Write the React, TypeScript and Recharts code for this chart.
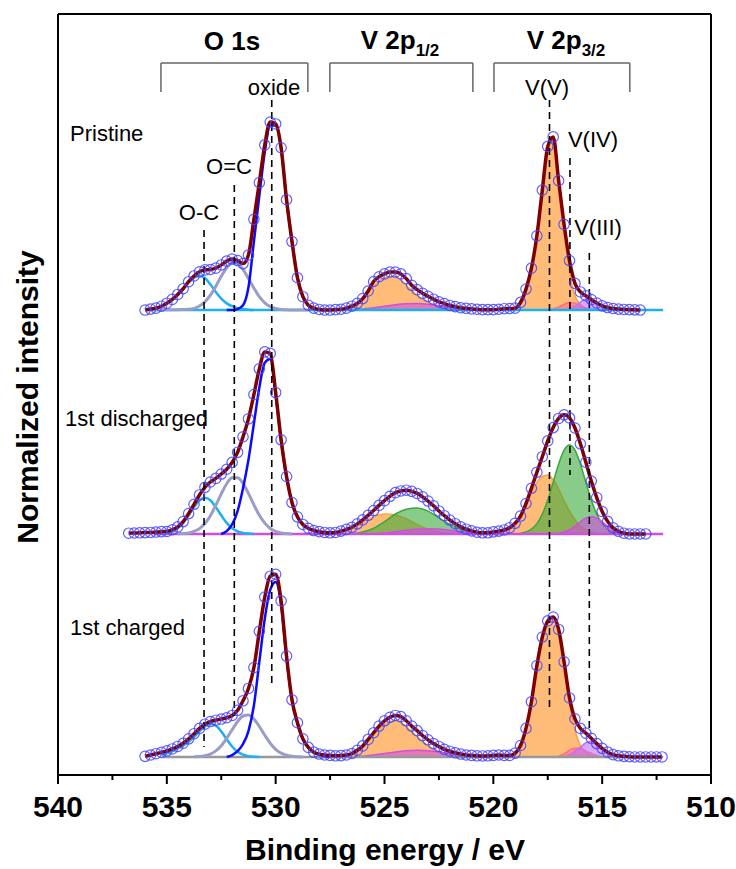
import React from 'react';
import { ComposedChart, Line, Area, Scatter, XAxis, YAxis, ReferenceLine } from 'recharts';

const FONT = '"Liberation Sans", Arial, Helvetica, sans-serif';

// x axis (binding energy, eV)
const majorTicks = [540, 535, 530, 525, 520, 515, 510];
const allTicks = [540, 537.5, 535, 532.5, 530, 527.5, 525, 522.5, 520, 517.5, 515, 512.5, 510];

// measured spectra, normalized intensity, 0.25 eV steps going down from *From
const pristineFrom = 536.0;
const pristine = [
  0, 0.005, 0.01, 0.02, 0.036, 0.056, 0.082, 0.112,
  0.149, 0.179, 0.201, 0.211, 0.213, 0.22, 0.237, 0.257,
  0.268, 0.26, 0.244, 0.289, 0.477, 0.67, 0.868, 0.988,
  0.978, 0.853, 0.58, 0.36, 0.17, 0.07, 0.025, 0.01,
  0.003, 0, 0, 0.002, 0.004, 0.01, 0.02, 0.035,
  0.06, 0.1, 0.15, 0.175, 0.19, 0.2, 0.2, 0.19,
  0.165, 0.13, 0.107, 0.088, 0.072, 0.057, 0.043, 0.034,
  0.024, 0.018, 0.012, 0.009, 0.006, 0.004, 0.002, 0.002,
  0.002, 0.004, 0.007, 0.008, 0.01, 0.04, 0.11, 0.22,
  0.39, 0.63, 0.86, 0.91, 0.68, 0.45, 0.26, 0.14,
  0.095, 0.075, 0.055, 0.037, 0.022, 0.013, 0.008, 0.005,
  0.003, 0.002, 0.001, 0,
];

const dischargedFrom = 536.75;
const discharged = [
  0.004, 0.005, 0.006, 0.007, 0.008, 0.01, 0.012, 0.013,
  0.022, 0.037, 0.065, 0.107, 0.156, 0.205, 0.245, 0.273,
  0.292, 0.315, 0.34, 0.376, 0.429, 0.511, 0.605, 0.733,
  0.868, 0.957, 0.949, 0.743, 0.495, 0.302, 0.165, 0.09,
  0.05, 0.03, 0.018, 0.012, 0.008, 0.006, 0.008, 0.015,
  0.024, 0.035, 0.053, 0.074, 0.098, 0.123, 0.15, 0.175,
  0.198, 0.217, 0.226, 0.23, 0.224, 0.213, 0.195, 0.173,
  0.148, 0.121, 0.096, 0.073, 0.054, 0.037, 0.025, 0.016,
  0.009, 0.006, 0.006, 0.011, 0.015, 0.021, 0.033, 0.056,
  0.094, 0.16, 0.24, 0.324, 0.406, 0.489, 0.559, 0.607,
  0.626, 0.61, 0.557, 0.474, 0.377, 0.278, 0.191, 0.118,
  0.066, 0.032, 0.014, 0.004, 0, 0, 0, 0,
];

const chargedFrom = 536.0;
const charged = [
  0.003, 0.01, 0.017, 0.024, 0.032, 0.042, 0.055, 0.072,
  0.095, 0.122, 0.15, 0.172, 0.186, 0.193, 0.199, 0.206,
  0.218, 0.245, 0.295, 0.36, 0.47, 0.66, 0.84, 0.95,
  0.96, 0.82, 0.53, 0.3, 0.18, 0.095, 0.05, 0.025,
  0.015, 0.01, 0.008, 0.006, 0.007, 0.01, 0.018, 0.035,
  0.058, 0.092, 0.127, 0.162, 0.19, 0.208, 0.218, 0.212,
  0.19, 0.162, 0.138, 0.112, 0.09, 0.07, 0.055, 0.04,
  0.03, 0.022, 0.015, 0.01, 0.008, 0.006, 0.005, 0.006,
  0.008, 0.01, 0.008, 0.008, 0.02, 0.06, 0.15, 0.29,
  0.48, 0.63, 0.715, 0.735, 0.67, 0.5, 0.31, 0.2,
  0.15, 0.125, 0.098, 0.07, 0.045, 0.025, 0.012, 0.006,
  0.003, 0.001, 0, 0, 0, 0, 0, 0,
];

// fitted components: first energy, step (eV), values
type Comp = { from: number; step: number; v: number[] };

// pristine
const priOC: Comp = { from: 535.75, step: 0.25, v: [0.005, 0.01, 0.02, 0.035, 0.055, 0.08, 0.11, 0.145, 0.17, 0.18, 0.168, 0.135, 0.095, 0.06, 0.035, 0.02, 0.01, 0.005, 0.002, 0] };
const priOdC: Comp = { from: 535.5, step: 0.25, v: [0, 0.001, 0.001, 0.002, 0.002, 0.003, 0.004, 0.009, 0.021, 0.043, 0.078, 0.125, 0.177, 0.222, 0.248, 0.245, 0.214, 0.166, 0.115, 0.07, 0.038, 0.018, 0.008, 0.003, 0.001, 0, 0, 0, 0] };
const priOxide: Comp = { from: 532.25, step: 0.25, v: [0, 0, 0.005, 0.025, 0.12, 0.36, 0.6, 0.83, 0.97, 0.97, 0.85, 0.58, 0.36, 0.17, 0.07, 0.025, 0.01, 0.003, 0] };
const priV5a: Comp = { from: 527.0, step: 0.5, v: [0, 0.012, 0.055, 0.125, 0.17, 0.175, 0.13, 0.075, 0.04, 0.018, 0.006, 0] };
const priPinkA: Comp = { from: 526.5, step: 0.5, v: [0, 0.005, 0.012, 0.02, 0.028, 0.033, 0.034, 0.031, 0.024, 0.016, 0.008, 0.003, 0] };
const priV5: Comp = { from: 519.75, step: 0.25, v: [0.002, 0.003, 0.005, 0.009, 0.035, 0.1, 0.21, 0.38, 0.62, 0.85, 0.9, 0.66, 0.42, 0.2, 0.075, 0.03, 0.01, 0.003, 0] };
const priV4: Comp = { from: 517.5, step: 0.25, v: [0, 0.005, 0.015, 0.03, 0.04, 0.035, 0.022, 0.01, 0.004, 0] };
const priV3: Comp = { from: 516.75, step: 0.25, v: [0, 0.006, 0.02, 0.042, 0.058, 0.05, 0.033, 0.02, 0.011, 0.006, 0.003, 0] };

// 1st discharged
const disOC: Comp = { from: 535.25, step: 0.25, v: [0.002, 0.005, 0.013, 0.03, 0.058, 0.098, 0.141, 0.177, 0.19, 0.177, 0.141, 0.098, 0.058, 0.03, 0.013, 0.005, 0.002, 0] };
const disOdC: Comp = { from: 534.5, step: 0.25, v: [0.001, 0.002, 0.005, 0.013, 0.028, 0.055, 0.096, 0.151, 0.211, 0.264, 0.296, 0.296, 0.266, 0.213, 0.153, 0.098, 0.057, 0.029, 0.013, 0.005, 0.002, 0] };
const disOxide: Comp = { from: 532.5, step: 0.25, v: [0, 0.015, 0.05, 0.12, 0.24, 0.39, 0.58, 0.77, 0.9, 0.92, 0.73, 0.49, 0.3, 0.165, 0.09, 0.05, 0.03, 0.018, 0.01, 0.005, 0] };
const disV5a: Comp = { from: 527.5, step: 0.5, v: [0, 0.01, 0.03, 0.06, 0.09, 0.105, 0.1, 0.08, 0.05, 0.025, 0.01, 0.003, 0] };
const disV4a: Comp = { from: 526.5, step: 0.5, v: [0, 0.01, 0.03, 0.065, 0.105, 0.13, 0.137, 0.12, 0.085, 0.05, 0.025, 0.01, 0.003, 0] };
const disV3a: Comp = { from: 525.5, step: 0.5, v: [0, 0.005, 0.012, 0.02, 0.026, 0.028, 0.026, 0.02, 0.012, 0.006, 0.002, 0] };
const disV5: Comp = { from: 520.0, step: 0.25, v: [0.006, 0.01, 0.016, 0.028, 0.05, 0.09, 0.15, 0.215, 0.27, 0.302, 0.31, 0.285, 0.235, 0.175, 0.12, 0.075, 0.042, 0.022, 0.01, 0.004, 0] };
const disV4: Comp = { from: 518.75, step: 0.25, v: [0.004, 0.01, 0.025, 0.054, 0.104, 0.178, 0.272, 0.368, 0.441, 0.468, 0.441, 0.368, 0.272, 0.178, 0.104, 0.054, 0.025, 0.01, 0.004, 0] };
const disV3: Comp = { from: 517.0, step: 0.25, v: [0.004, 0.01, 0.022, 0.041, 0.064, 0.083, 0.09, 0.083, 0.064, 0.041, 0.022, 0.01, 0.004, 0] };

// 1st charged
const chgOC: Comp = { from: 535.25, step: 0.25, v: [0.01, 0.02, 0.03, 0.045, 0.06, 0.08, 0.105, 0.135, 0.16, 0.173, 0.165, 0.134, 0.093, 0.055, 0.027, 0.012, 0.004, 0.001, 0] };
const chgOdC: Comp = { from: 533.75, step: 0.25, v: [0.001, 0.002, 0.006, 0.015, 0.032, 0.059, 0.098, 0.143, 0.186, 0.215, 0.22, 0.199, 0.16, 0.114, 0.072, 0.04, 0.02, 0.009, 0.003, 0.001, 0] };
const chgOxide: Comp = { from: 532.25, step: 0.25, v: [0, 0.01, 0.03, 0.068, 0.136, 0.27, 0.5, 0.726, 0.878, 0.92, 0.8, 0.52, 0.3, 0.18, 0.095, 0.05, 0.025, 0.012, 0.005, 0] };
const chgV5a: Comp = { from: 527.0, step: 0.5, v: [0, 0.012, 0.05, 0.115, 0.17, 0.19, 0.16, 0.105, 0.058, 0.028, 0.012, 0.004, 0] };
const chgPinkA: Comp = { from: 526.5, step: 0.5, v: [0, 0.004, 0.01, 0.018, 0.026, 0.032, 0.035, 0.033, 0.027, 0.018, 0.01, 0.004, 0] };
const chgV5: Comp = { from: 519.5, step: 0.25, v: [0.003, 0.006, 0.018, 0.058, 0.148, 0.288, 0.478, 0.628, 0.712, 0.73, 0.66, 0.48, 0.28, 0.14, 0.06, 0.022, 0.007, 0] };
const chgV4: Comp = { from: 517.0, step: 0.25, v: [0.004, 0.016, 0.036, 0.045, 0.045, 0.03, 0.019, 0.006, 0] };
const chgV3: Comp = { from: 516.75, step: 0.25, v: [0, 0.01, 0.03, 0.05, 0.075, 0.083, 0.065, 0.042, 0.023, 0.011, 0.004, 0] };

// vertical stacking of the three spectra
const OFF_PRI = 2.444;
const OFF_DIS = 1.267;
const OFF_CHG = 0.095;

const C = {
  circle: '#4444ff',
  fit: '#800000',
  oc: '#1cb0f0',
  odc: '#9b9dc9',
  oxide: '#0a0aff',
  orange: '#ffa040',
  green: '#3aa83a',
  magenta: '#cf4fdf',
  pink: '#ff6a8a',
  purple: '#c070ff',
  grey: '#999999',
};

const measured = (from: number, v: number[], off: number) =>
  v.map((y, i) => ({ x: from - i * 0.25, y: off + y }));
const pts = (c: Comp, off: number) => c.v.map((y, i) => ({ x: c.from - i * c.step, y: off + y }));
const band = (c: Comp, off: number) => c.v.map((y, i) => ({ x: c.from - i * c.step, y: [off, off + y] }));

const W = 736;
const H = 869;

function Tick(props: any) {
  const { x, y, payload } = props;
  const major = majorTicks.includes(payload.value);
  return (
    <g>
      <line x1={x} x2={x} y1={y} y2={y + (major ? 9 : 5)} stroke="#000" strokeWidth={2} />
      {major && (
        <text x={x} y={y + 42} textAnchor="middle" fontSize={30} fontWeight="bold" fontFamily={FONT} fill="#000">
          {payload.value}
        </text>
      )}
    </g>
  );
}

const circleShape = (p: any) => (
  <circle cx={p.cx} cy={p.cy} r={5.2} fill="none" stroke={C.circle} strokeOpacity={0.85} strokeWidth={1.2} />
);

// dashed peak markers: energy, top, bottom (intensity units)
const markers = [
  { ev: 533.29, y1: 2.865, y2: 0.147 },
  { ev: 531.9, y1: 3.101, y2: 0.31 },
  { ev: 530.18, y1: 3.548, y2: 0.484 },
  { ev: 517.42, y1: 3.548, y2: 0.357 },
  { ev: 516.48, y1: 3.243, y2: 1.577 },
  { ev: 515.59, y1: 2.744, y2: 0.237 },
];
const brackets = [
  [535.27, 528.52],
  [527.51, 520.94],
  [519.97, 513.73],
];
const BR_TOP = 3.742;
const BR_FOOT = 3.59;

const baselines = [
  { from: 535.9, off: OFF_PRI, color: C.oc },
  { from: 535.6, off: OFF_DIS, color: C.magenta },
  { from: 535.2, off: OFF_CHG, color: C.grey },
];

function Label({ x, y, children, size = 22, bold = false, left = false }: any) {
  return (
    <div
      style={{
        position: 'absolute',
        left: x,
        top: y,
        transform: left ? 'translate(0, -50%)' : 'translate(-50%, -50%)',
        fontFamily: FONT,
        fontSize: size,
        fontWeight: bold ? 'bold' : 'normal',
        lineHeight: 1,
        whiteSpace: 'nowrap',
        color: '#000',
      }}
    >
      {children}
    </div>
  );
}

const sub = { fontSize: 17, position: 'relative' as const, top: 7, verticalAlign: 'baseline' };

export default function App() {
  const lineComp = (c: Comp, off: number, color: string, w = 2.5) => (
    <Line data={pts(c, off)} dataKey="y" type="monotone" stroke={color} strokeWidth={w} dot={false} isAnimationActive={false} />
  );
  const areaComp = (c: Comp, off: number, color: string, op = 0.7) => (
    <Area data={band(c, off)} dataKey="y" type="monotone" stroke={color} strokeWidth={1.5} fill={color} fillOpacity={op} dot={false} isAnimationActive={false} />
  );
  const spectra = [
    { d: measured(pristineFrom, pristine, OFF_PRI) },
    { d: measured(dischargedFrom, discharged, OFF_DIS) },
    { d: measured(chargedFrom, charged, OFF_CHG) },
  ];

  return (
    <div style={{ position: 'absolute', left: 0, top: 0, width: W, height: H, background: '#fff' }}>
      <ComposedChart width={W} height={H} margin={{ top: 14, right: 25, left: 58, bottom: 34 }}>
        <XAxis
          dataKey="x"
          type="number"
          domain={[510, 540]}
          reversed
          ticks={allTicks}
          interval={0}
          tick={<Tick />}
          tickLine={false}
          tickSize={0}
          tickMargin={0}
          height={60}
          axisLine={{ stroke: '#000', strokeWidth: 2 }}
          allowDataOverflow
        />
        <YAxis dataKey="y" type="number" domain={[0, 4]} hide allowDataOverflow />

        {baselines.map((b, i) => (
          <ReferenceLine key={'b' + i} segment={[{ x: b.from, y: b.off }, { x: 512.2, y: b.off }]} stroke={b.color} strokeWidth={2.5} />
        ))}

        {spectra.map((s, i) => (
          <Scatter key={'s' + i} data={s.d} dataKey="y" shape={circleShape} isAnimationActive={false} />
        ))}

        {lineComp(priOC, OFF_PRI, C.oc)}
        {lineComp(priOdC, OFF_PRI, C.odc, 3)}
        {lineComp(priOxide, OFF_PRI, C.oxide)}
        {areaComp(priV5a, OFF_PRI, C.orange)}
        {areaComp(priPinkA, OFF_PRI, C.magenta, 0.6)}
        {areaComp(priV5, OFF_PRI, C.orange)}
        {areaComp(priV4, OFF_PRI, C.pink, 0.6)}
        {areaComp(priV3, OFF_PRI, C.purple, 0.6)}

        {lineComp(disOC, OFF_DIS, C.oc)}
        {lineComp(disOdC, OFF_DIS, C.odc, 3)}
        {lineComp(disOxide, OFF_DIS, C.oxide)}
        {areaComp(disV5a, OFF_DIS, C.orange)}
        {areaComp(disV4a, OFF_DIS, C.green, 0.6)}
        {areaComp(disV3a, OFF_DIS, C.magenta, 0.6)}
        {areaComp(disV5, OFF_DIS, C.orange)}
        {areaComp(disV4, OFF_DIS, C.green, 0.6)}
        {areaComp(disV3, OFF_DIS, C.magenta, 0.6)}

        {lineComp(chgOC, OFF_CHG, C.oc)}
        {lineComp(chgOdC, OFF_CHG, C.odc, 3)}
        {lineComp(chgOxide, OFF_CHG, C.oxide)}
        {areaComp(chgV5a, OFF_CHG, C.orange)}
        {areaComp(chgPinkA, OFF_CHG, C.magenta, 0.6)}
        {areaComp(chgV5, OFF_CHG, C.orange)}
        {areaComp(chgV4, OFF_CHG, C.pink, 0.6)}
        {areaComp(chgV3, OFF_CHG, C.purple, 0.6)}

        {spectra.map((s, i) => (
          <Line key={'f' + i} data={s.d} dataKey="y" type="monotone" stroke={C.fit} strokeWidth={3.5} dot={false} isAnimationActive={false} />
        ))}

        {markers.map((m, i) => (
          <ReferenceLine key={'m' + i} segment={[{ x: m.ev, y: m.y1 }, { x: m.ev, y: m.y2 }]} stroke="#000" strokeWidth={1.6} strokeDasharray="7 5" />
        ))}

        {brackets.map(([a, b], i) => (
          <ReferenceLine key={'bt' + i} segment={[{ x: a, y: BR_TOP }, { x: b, y: BR_TOP }]} stroke="#666" strokeWidth={1.5} />
        ))}
        {brackets.flat().map((e, i) => (
          <ReferenceLine key={'bv' + i} segment={[{ x: e, y: BR_TOP }, { x: e, y: BR_FOOT }]} stroke="#666" strokeWidth={1.5} />
        ))}

        <ReferenceLine y={4} stroke="#000" strokeWidth={2} />
        <ReferenceLine x={540} stroke="#000" strokeWidth={2} />
        <ReferenceLine x={510} stroke="#000" strokeWidth={2} />
      </ComposedChart>

      <Label x={232} y={41} size={26} bold>O 1s</Label>
      <Label x={400} y={40} size={26} bold>V 2p<span style={sub}>1/2</span></Label>
      <Label x={566} y={40} size={26} bold>V 2p<span style={sub}>3/2</span></Label>
      <Label x={274} y={88}>oxide</Label>
      <Label x={547} y={88}>V(V)</Label>
      <Label x={593} y={140}>V(IV)</Label>
      <Label x={598} y={228}>V(III)</Label>
      <Label x={229} y={167}>O=C</Label>
      <Label x={199} y={213}>O-C</Label>
      <Label x={70} y={134} left>Pristine</Label>
      <Label x={65} y={419} left>1st discharged</Label>
      <Label x={70} y={628} left>1st charged</Label>
      <Label x={385} y={850} size={30} bold>Binding energy / eV</Label>
      <div
        style={{
          position: 'absolute',
          left: 28,
          top: 397,
          transform: 'translate(-50%, -50%) rotate(-90deg)',
          fontFamily: FONT,
          fontSize: 30,
          fontWeight: 'bold',
          lineHeight: 1,
          whiteSpace: 'nowrap',
        }}
      >
        Normalized intensity
      </div>
    </div>
  );
}
